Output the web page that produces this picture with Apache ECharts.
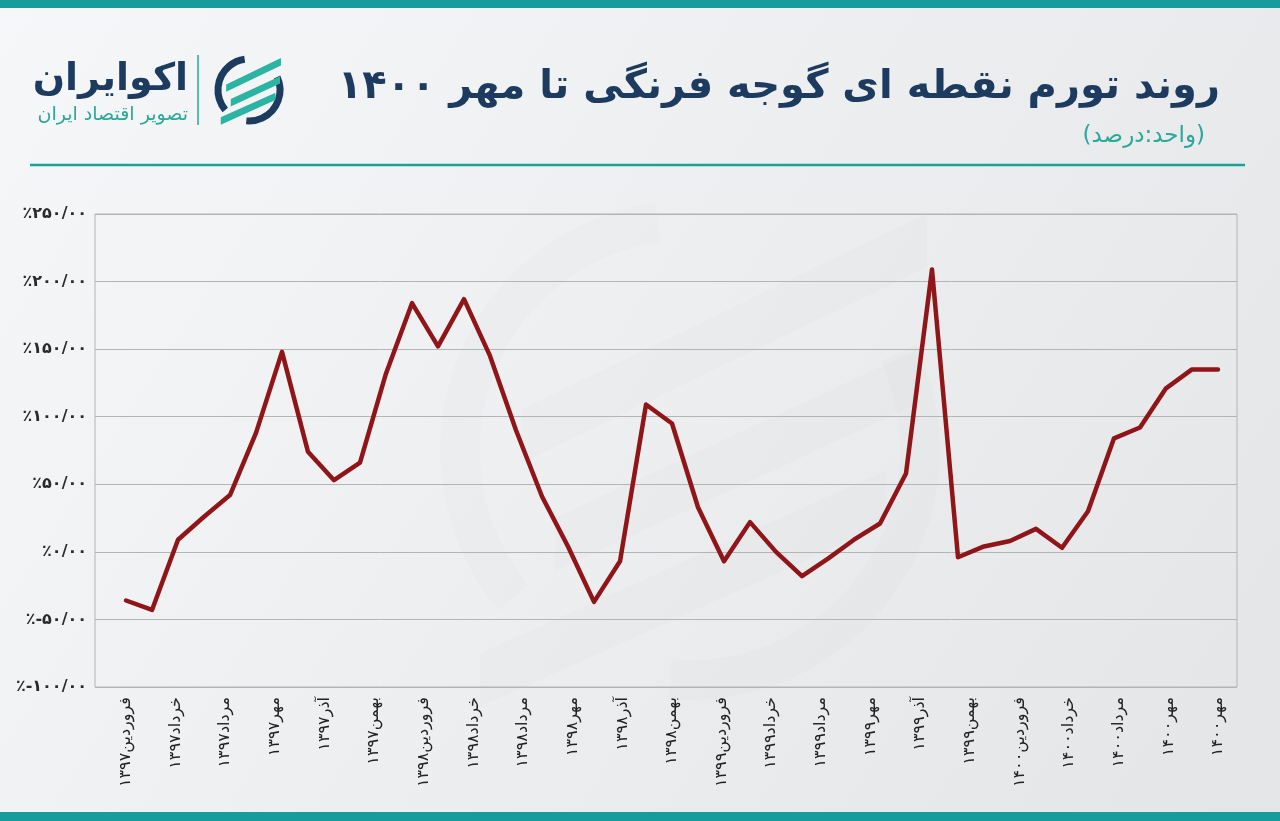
<!DOCTYPE html>
<html><head><meta charset="utf-8">
<script src="https://cdn.jsdelivr.net/npm/echarts@6/dist/echarts.min.js"></script>
<style>html,body{margin:0;padding:0;background:#eef0f1;}#c{width:1280px;height:821px;}</style>
</head><body><div id="c"></div>
<script>
// ---- data ----
const monthCategories = [
  'فروردین۱۳۹۷','اردیبهشت۱۳۹۷','خرداد۱۳۹۷','تیر۱۳۹۷','مرداد۱۳۹۷','شهریور۱۳۹۷','مهر۱۳۹۷','آبان۱۳۹۷','آذر۱۳۹۷','دی۱۳۹۷','بهمن۱۳۹۷','اسفند۱۳۹۷',
  'فروردین۱۳۹۸','اردیبهشت۱۳۹۸','خرداد۱۳۹۸','تیر۱۳۹۸','مرداد۱۳۹۸','شهریور۱۳۹۸','مهر۱۳۹۸','آبان۱۳۹۸','آذر۱۳۹۸','دی۱۳۹۸','بهمن۱۳۹۸','اسفند۱۳۹۸',
  'فروردین۱۳۹۹','اردیبهشت۱۳۹۹','خرداد۱۳۹۹','تیر۱۳۹۹','مرداد۱۳۹۹','شهریور۱۳۹۹','مهر۱۳۹۹','آبان۱۳۹۹','آذر۱۳۹۹','دی۱۳۹۹','بهمن۱۳۹۹','اسفند۱۳۹۹',
  'فروردین۱۴۰۰','اردیبهشت۱۴۰۰','خرداد۱۴۰۰','تیر۱۴۰۰','مرداد۱۴۰۰','شهریور۱۴۰۰','مهر۱۴۰۰'
];
const inflationValues = [
  -36, -43, 9, 26, 42, 88, 148, 74, 53, 66, 132, 184,
  152, 187, 145, 90, 41, 4, -37, -7, 109, 95, 33, -7,
  22, 0, -18, -5, 9, 21, 58, 209, -4, 4, 8, 17,
  3, 30, 84, 92, 121, 135, 135
];
const xTickLabels = [
  'فروردین۱۳۹۷','خرداد۱۳۹۷','مرداد۱۳۹۷','مهر۱۳۹۷','آذر۱۳۹۷','بهمن۱۳۹۷',
  'فروردین۱۳۹۸','خرداد۱۳۹۸','مرداد۱۳۹۸','مهر۱۳۹۸','آذر۱۳۹۸','بهمن۱۳۹۸',
  'فروردین۱۳۹۹','خرداد۱۳۹۹','مرداد۱۳۹۹','مهر۱۳۹۹','آذر۱۳۹۹','بهمن۱۳۹۹',
  'فروردین۱۴۰۰','خرداد۱۴۰۰','مرداد۱۴۰۰','مهر۱۴۰۰','مهر۱۴۰۰'
];
const yTickValues = [-100, -50, 0, 50, 100, 150, 200, 250];
const yTickLabels = ['٪-۱۰۰/۰۰','٪-۵۰/۰۰','٪۰/۰۰','٪۵۰/۰۰','٪۱۰۰/۰۰','٪۱۵۰/۰۰','٪۲۰۰/۰۰','٪۲۵۰/۰۰'];
const titleText = 'روند تورم نقطه ای گوجه فرنگی تا مهر ۱۴۰۰';
const subtitleText = '\u200F(واحد:درصد)\u200F';
const brandText = 'اکوایران';
const brandSubText = 'تصویر اقتصاد ایران';

// ---- chart ----
const NAVY = '#1d3a5f', TEAL = '#2aa899', BAR = '#169c9c';
const FONT = '"DejaVu Sans", sans-serif';
const chart = echarts.init(document.getElementById('c'), null, {renderer: 'canvas'});
const d2r = Math.PI / 180;

function logo(cx, cy, r, lw, navy, teal, opacity, z) {
  const s = r / 34;
  const stripe = (x1, y1, x2, y2, t) => ({
    type: 'polygon', z: z, silent: true,
    shape: {points: [[cx + x1 * s, cy + y1 * s], [cx + x2 * s, cy + y2 * s], [cx + x2 * s, cy + (y2 + t) * s], [cx + x1 * s, cy + (y1 + t) * s]]},
    style: {fill: teal, opacity: opacity}
  });
  return [
    {type: 'arc', z: z, silent: true, shape: {cx: cx, cy: cy, r: r, startAngle: 140 * d2r, endAngle: 262 * d2r, clockwise: true},
      style: {stroke: navy, lineWidth: lw, fill: null, opacity: opacity}},
    {type: 'arc', z: z, silent: true, shape: {cx: cx, cy: cy, r: r, startAngle: -25 * d2r, endAngle: 95 * d2r, clockwise: true},
      style: {stroke: navy, lineWidth: lw, fill: null, opacity: opacity}},
    stripe(-25, -6, 35, -35, 8),
    stripe(-20, 10, 34, -15, 8),
    stripe(-31, 30, 29, 3, 8)
  ];
}

const option = {
  backgroundColor: new echarts.graphic.LinearGradient(0, 0, 1, 1, [
    {offset: 0, color: '#f6f7f8'}, {offset: 1, color: '#e3e5e6'}
  ]),
  animation: false,
  grid: [
    {left: 95, right: 43, top: 214, bottom: 134, show: true, borderColor: '#b4b4b4', borderWidth: 1, backgroundColor: 'transparent'},
    {left: 126, right: 62, top: 214, bottom: 134}
  ],
  xAxis: [
    {gridIndex: 0, type: 'value', min: 0, max: 1, show: false},
    {gridIndex: 1, type: 'category', data: monthCategories, boundaryGap: false, show: false},
    {gridIndex: 1, type: 'category', data: xTickLabels, boundaryGap: false, position: 'bottom',
      axisLine: {show: false}, axisTick: {show: false}, splitLine: {show: false},
      axisLabel: {interval: 0, rotate: 90, margin: 10, fontSize: 16, color: '#222', fontFamily: FONT}}
  ],
  yAxis: [
    {gridIndex: 0, type: 'value', min: -100, max: 250, interval: 50,
      axisLine: {show: false}, axisTick: {show: false},
      splitLine: {show: true, lineStyle: {color: '#b4b4b4', width: 1}},
      axisLabel: {margin: 8, fontSize: 16, fontWeight: 'bold', color: '#2a2a2a', fontFamily: FONT,
        formatter: v => yTickLabels[yTickValues.indexOf(v)] || ''}},
    {gridIndex: 1, type: 'value', min: -100, max: 250, show: false}
  ],
  series: [{
    type: 'line', xAxisIndex: 1, yAxisIndex: 1, data: inflationValues,
    symbol: 'none', smooth: false,
    lineStyle: {color: '#901519', width: 4.5, join: 'round', cap: 'round'}
  }],
  graphic: [
    {type: 'rect', z: 100, silent: true, shape: {x: 0, y: 0, width: 1280, height: 8}, style: {fill: BAR}},
    {type: 'rect', z: 100, silent: true, shape: {x: 0, y: 812, width: 1280, height: 9}, style: {fill: BAR}},
    {type: 'line', z: 100, silent: true, shape: {x1: 30, y1: 165, x2: 1245, y2: 165}, style: {stroke: '#1e9f99', lineWidth: 2.5}},
    {type: 'text', z: 100, silent: true, x: 1220, y: 88,
      style: {text: titleText, fill: NAVY, font: 'bold 40px ' + FONT, textAlign: 'right', textVerticalAlign: 'middle'}},
    {type: 'text', z: 100, silent: true, x: 1205, y: 136,
      style: {text: subtitleText, fill: TEAL, font: '23px ' + FONT, textAlign: 'right', textVerticalAlign: 'middle'}},
    {type: 'text', z: 100, silent: true, x: 188, y: 80,
      style: {text: brandText, fill: NAVY, font: 'bold 38px ' + FONT, textAlign: 'right', textVerticalAlign: 'middle'}},
    {type: 'text', z: 100, silent: true, x: 188, y: 115,
      style: {text: brandSubText, fill: TEAL, font: '19px ' + FONT, textAlign: 'right', textVerticalAlign: 'middle'}},
    {type: 'line', z: 100, silent: true, shape: {x1: 198, y1: 55, x2: 198, y2: 125}, style: {stroke: TEAL, lineWidth: 1.5}},
    ...logo(249, 90, 31, 7, NAVY, '#2bb3a3', 1, 100),
    ...logo(690, 450, 230, 40, '#000', '#000', 0.012, -5)
  ]
};
chart.setOption(option);
</script>
</body></html>
